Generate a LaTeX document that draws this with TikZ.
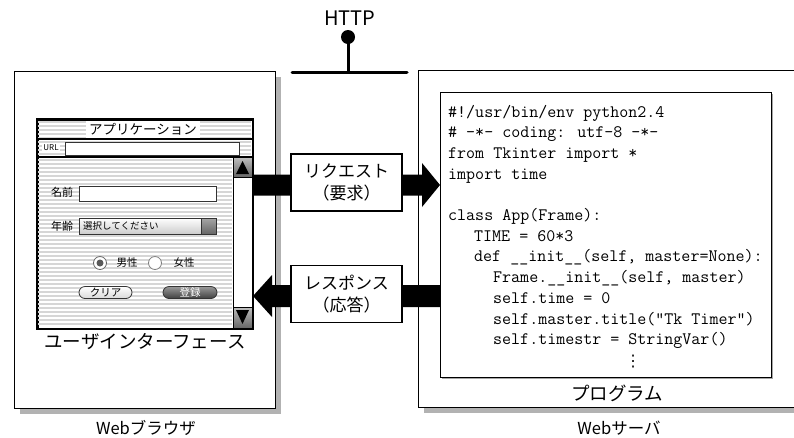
\documentclass[tikz,border=0pt]{standalone}
\usepackage{fontspec}
\setmainfont{Noto Sans CJK JP}
\newfontfamily\symfont{DejaVu Sans}
\usetikzlibrary{calc}
\begin{document}
\begin{tikzpicture}[x=1pt,y=-1pt,
  frame/.style={draw=black,line width=1.4pt,fill=white,inner sep=0pt,anchor=north west},
  shadowfill/.style={fill=black!30},
  codeline/.style={anchor=base west,inner sep=0pt,font=\ttfamily\fontsize{17.5}{20}\selectfont},
  biglabel/.style={inner sep=0pt,font=\fontsize{18.5}{22}\selectfont},
  weblabel/.style={inner sep=0pt,font=\fontsize{16.5}{20}\selectfont},
  msglabel/.style={draw=black,line width=1.5pt,fill=white,align=center,inner sep=0pt,
    minimum width=111pt,minimum height=57pt,font=\fontsize{17}{22}\selectfont},
  stripe/.style={draw=black!16,line width=1.4pt},
  field/.style={draw=black!80,line width=0.8pt,fill=white},
  smalljp/.style={inner sep=0pt,font=\fontsize{10.5}{12}\selectfont},
  bigarrow/.style={fill=black}
]
\useasboundingbox (0,0) rectangle (794,437);

% ---------- HTTP bus ----------
\node[inner sep=0pt,font=\fontsize{20}{24}\selectfont] (http) at (350,18) {HTTP};
\coordinate (dot) at (348,37);
\coordinate (busL) at (292,72);
\coordinate (busR) at (407,72);
\coordinate (busM) at (348,72);
\draw[line width=3pt,line cap=round] (busL) -- (busR);
\draw[line width=3pt] (dot) -- (busM);
\fill (dot) circle (7);

% ---------- Web browser ----------
\fill[shadowfill] (20,77) rectangle (281,414);
\node[frame,minimum width=261pt,minimum height=337pt] (browser) at (14,71) {};
\node[weblabel] (browserlabel) at (146,428) {Webブラウザ};

% ---------- Web server ----------
\fill[shadowfill] (424,76) rectangle (810,413);
\node[frame,minimum width=392pt,minimum height=337pt] (server) at (418,70) {};
\node[weblabel] (serverlabel) at (619,428) {Webサーバ};

% ---------- code box ----------
\fill[black!35] (442,94) rectangle (773,379);
\node[frame,line width=1.1pt,minimum width=331pt,minimum height=285pt] (code) at (440,92) {};
\node[codeline] (c1) at (448,117) {\#!/usr/bin/env python2.4};
\node[codeline] (c2) at (448,137.7) {\# -*- coding: utf-8 -*-};
\node[codeline] (c3) at (448,158.4) {from Tkinter import *};
\node[codeline] (c4) at (448,179.1) {import time};
\node[codeline] (c5) at (448,220.5) {class App(Frame):};
\node[codeline] (c6) at (474,241.2) {TIME = 60*3};
\node[codeline] (c7) at (474,261.9) {def \_\_init\_\_(self, master=None):};
\node[codeline] (c8) at (493,282.6) {Frame.\_\_init\_\_(self, master)};
\node[codeline] (c9) at (493,303.3) {self.time = 0};
\node[codeline] (c10) at (493,324) {self.master.title("Tk Timer")};
\node[codeline] (c11) at (493,344.7) {self.timestr = StringVar()};
\node[inner sep=0pt,font=\symfont\fontsize{16}{18}\selectfont] (c12) at (633,362) {⋮};
\node[biglabel] (proglabel) at (617,393) {プログラム};

% ---------- application window ----------
\node[frame,line width=1.5pt,minimum width=215pt,minimum height=209pt] (win) at (37,119) {};
\foreach \yy in {122,126,...,154} \draw[stripe] (38,\yy) -- (251,\yy);
\foreach \yy in {160,164,...,326} \draw[stripe] (38,\yy) -- (232,\yy);
\draw[line width=1.5pt] (37,139) -- (252,139);
\draw[line width=1.2pt] (37,157) -- (252,157);
\node[inner sep=0pt,fill=white,minimum height=17pt,inner xsep=3pt,font=\fontsize{13.5}{15}\selectfont] (title) at (143,129) {アプリケーション};
% URL row
\node[inner sep=1pt,fill=white,font=\fontsize{8}{9}\selectfont] (urllabel) at (51,148) {URL};
\draw[field] (65,142) rectangle (239,155);
% scrollbar
\draw[fill=white,line width=1pt] (233,157) rectangle (252,328);
\draw[line width=1pt,top color=black!25,bottom color=black!60] (233,157) rectangle (252,177);
\fill (236,174) -- (249,174) -- (242.5,161) -- cycle;
\draw[line width=1pt,top color=black!25,bottom color=black!60] (233,307) rectangle (252,328);
\fill (236,310) -- (249,310) -- (242.5,324) -- cycle;
\draw[line width=1.5pt] (win.north west) rectangle (win.south east);
% name
\node[smalljp,font=\fontsize{11}{12}\selectfont] (namelabel) at (62,192) {名前};
\draw[field] (79,186) rectangle (216,201);
% age
\node[smalljp,font=\fontsize{11}{12}\selectfont] (agelabel) at (62,226) {年齢};
\draw[draw=black!80,line width=0.8pt,top color=white,bottom color=black!20] (79,218) rectangle (216,234);
\draw[draw=black!80,line width=0.8pt,top color=black!35,bottom color=black!60] (201,218) rectangle (216,234);
\node[anchor=west,inner sep=0pt,font=\fontsize{9.5}{11}\selectfont] (select) at (83,226) {選択してください};
% radios
\draw[draw=black!60,fill=white,line width=0.8pt] (100,263) circle (6.5);
\fill[black!65] (100,263) circle (3.5);
\node[smalljp] (male) at (127,263) {男性};
\draw[draw=black!50,fill=white,line width=0.8pt] (155,263) circle (6.5);
\node[smalljp] (female) at (184,263) {女性};
% buttons
\node[draw=black!80,line width=0.8pt,rounded corners=6pt,top color=white,bottom color=black!15,
  minimum width=53pt,minimum height=12pt,inner sep=0pt,font=\fontsize{10.5}{12}\selectfont] (clear) at (105.5,292.5) {クリア};
\node[draw=black!80,line width=0.8pt,rounded corners=6pt,top color=black!40,bottom color=black!75,
  text=white,minimum width=54pt,minimum height=12pt,inner sep=0pt,font=\fontsize{10.5}{12}\selectfont] (register) at (190,292.5) {登録};
\node[biglabel] (uilabel) at (145,342) {ユーザインターフェース};

% ---------- request / response arrows ----------
\coordinate (reqA) at (253,185);
\coordinate (reqB) at (440,185);
\fill[bigarrow] ($(reqA)+(0,-10.5)$) -- ($(reqB)+(-18,-10.5)$) -- ($(reqB)+(-18,-22)$) -- (reqB)
  -- ($(reqB)+(-18,22)$) -- ($(reqB)+(-18,10.5)$) -- ($(reqA)+(0,10.5)$) -- cycle;
\coordinate (resA) at (440,296);
\coordinate (resB) at (253,296);
\fill[bigarrow] ($(resA)+(0,-11)$) -- ($(resB)+(19,-11)$) -- ($(resB)+(19,-21)$) -- (resB)
  -- ($(resB)+(19,21)$) -- ($(resB)+(19,11)$) -- ($(resA)+(0,11)$) -- cycle;
\node[msglabel] (req) at (346.5,182.5) {リクエスト\\（要求）};
\node[msglabel] (res) at (346.5,294) {レスポンス\\（応答）};
\end{tikzpicture}
\end{document}
